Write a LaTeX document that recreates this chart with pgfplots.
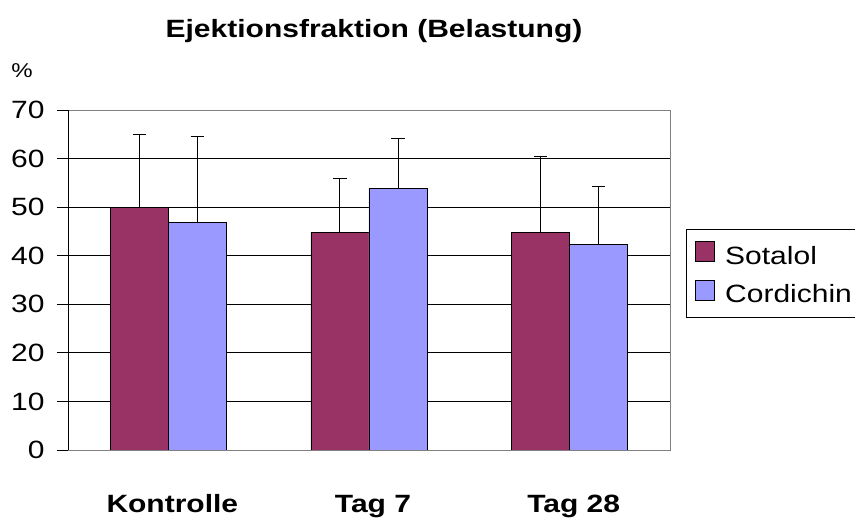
\documentclass[border=0pt]{standalone}
\usepackage{fontspec}
\setmainfont[FakeStretch=1.2]{Liberation Sans}
\usepackage{pgfplots}
\pgfplotsset{compat=1.18}
\definecolor{sot}{RGB}{153,51,102}
\definecolor{cor}{RGB}{153,153,255}
\definecolor{framegray}{RGB}{128,128,128}
\begin{document}
\begin{tikzpicture}
\useasboundingbox (0pt,0pt) rectangle (855pt,518pt);
\begin{axis}[
  at={(68pt,68pt)}, anchor=south west,
  scale only axis, width=602pt, height=340pt,
  xmin=-0.5, xmax=2.5, ymin=0, ymax=70,
  ybar=0pt, bar width=58pt,
  xtick={0,1,2}, xticklabels={Kontrolle,Tag 7,Tag 28},
  xtick style={draw=none},
  xticklabel style={font=\fontsize{25}{30}\selectfont\bfseries, anchor=base, yshift=-52pt, xshift=4pt},
  ytick={0,10,...,70}, ytick pos=left,
  ytick style={black, line width=0.8pt},
  major tick length=11pt, tick align=outside,
  yticklabel style={font=\fontsize{25}{30}\selectfont, anchor=east, xshift=-9pt},
  /pgf/number format/assume math mode=true,
  axis line style={framegray, line width=0.8pt},
  extra y ticks={10,20,...,60},
  extra y tick labels={},
  extra y tick style={ymajorgrids=true, major grid style={black, line width=0.8pt}, major tick length=0pt},
  legend style={at={(rel axis cs:1.0266,0.65)}, anchor=north west, draw=black, line width=0.8pt,
    font=\fontsize{25}{30}\selectfont, row sep=12pt, inner ysep=12pt},
  legend cell align=left,
  legend image code/.code={\path (-6pt,0pt) (27pt,0pt);\draw[#1, line width=0.8pt] (0pt,-6pt) rectangle (19pt,14pt);},
]
\addplot[fill=sot, draw=black, line width=0.8pt,
  error bars/.cd, y dir=plus, y explicit,
  error bar style={black, line width=1pt},
  error mark options={rotate=90, mark size=6.8pt, black, line width=1pt}]
  coordinates {(0,50) +- (0,15.0) (1,44.8) +- (0,11.1) (2,44.8) +- (0,15.6)};
\addplot[fill=cor, draw=black, line width=0.8pt,
  error bars/.cd, y dir=plus, y explicit,
  error bar style={black, line width=1pt},
  error mark options={rotate=90, mark size=6.8pt, black, line width=1pt}]
  coordinates {(0,46.8) +- (0,17.7) (1,53.9) +- (0,10.2) (2,42.3) +- (0,11.9)};
\legend{Sotalol,Cordichin}
\draw[black, line width=0.8pt] (rel axis cs:0,0) -- (rel axis cs:0,1);
\end{axis}
\node[anchor=base, font=\fontsize{25}{30}\selectfont\bfseries] at (374pt,480pt) {Ejektionsfraktion (Belastung)};
\node[anchor=base, font=\fontsize{20}{24}\selectfont] at (22pt,440pt) {\%};
\end{tikzpicture}
\end{document}
